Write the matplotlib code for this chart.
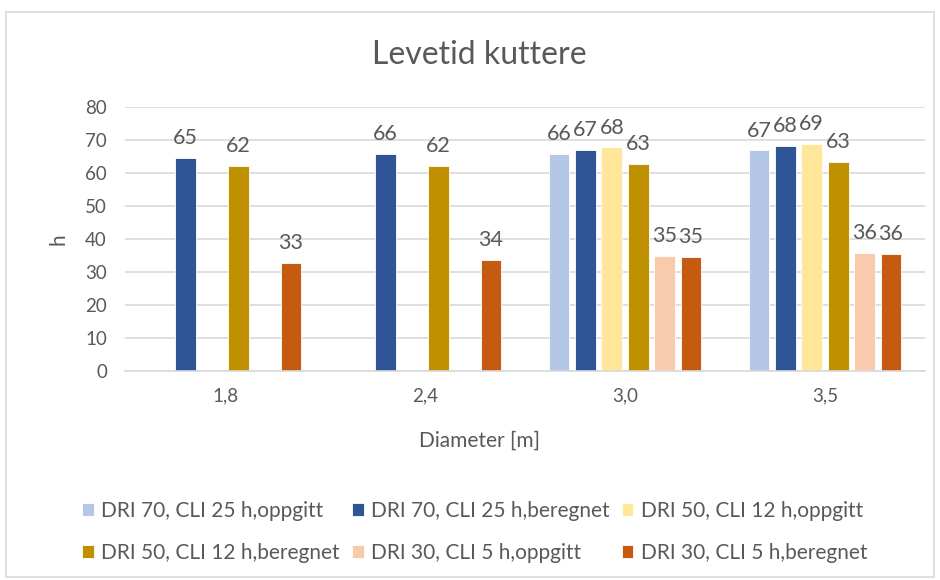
import numpy as np
import matplotlib.pyplot as plt
from matplotlib.patches import Rectangle

plt.rcParams['font.family'] = ['Lato', 'DejaVu Sans']

# Data
kategorier = ['1,8', '2,4', '3,0', '3,5']
serier = ['DRI 70, CLI 25 h,oppgitt', 'DRI 70, CLI 25 h,beregnet',
          'DRI 50, CLI 12 h,oppgitt', 'DRI 50, CLI 12 h,beregnet',
          'DRI 30, CLI 5 h,oppgitt', 'DRI 30, CLI 5 h,beregnet']
verdier = [
    [np.nan, np.nan, 65.9, 66.9],
    [64.7, 65.7, 67.1, 68.3],
    [np.nan, np.nan, 67.8, 68.9],
    [62.1, 62.2, 62.8, 63.4],
    [np.nan, np.nan, 34.9, 35.9],
    [32.8, 33.6, 34.7, 35.6],
]
farger = ['#B4C7E7', '#2F5597', '#FFE699', '#BF9000', '#F8CBAD', '#C55A11']

tekst = '#595959'

fig = plt.figure(figsize=(9.4, 5.8), dpi=100)
ax = fig.add_axes([0.133, 0.3603, 0.851, 0.4552])

x = np.arange(len(kategorier))
slot = 0.132
bredde = 0.104
handles = []
for i, (navn, v, c) in enumerate(zip(serier, verdier, farger)):
    b = ax.bar(x + (i - 2.5) * slot, v, width=bredde, color=c,
               edgecolor='white', linewidth=0.6, label=navn)
    handles.append(b)
    etiketter = ['' if np.isnan(val) else f'{val:.0f}' for val in v]
    ax.bar_label(b, labels=etiketter, padding=7, fontsize=15.5, color=tekst)

ax.set_xlim(-0.5, 3.5)
ax.set_ylim(0, 80)
ax.set_yticks(np.arange(0, 81, 10))
ax.set_xticks(x)
ax.set_xticklabels(kategorier)
ax.tick_params(axis='both', length=0, labelsize=13.5, colors=tekst)
ax.tick_params(axis='y', pad=13)
ax.tick_params(axis='x', pad=12)
ax.grid(axis='y', color='#D9D9D9', linewidth=1.2)
ax.set_axisbelow(True)
for s in ['top', 'right', 'left']:
    ax.spines[s].set_visible(False)
ax.spines['bottom'].set_color('#D9D9D9')
ax.spines['bottom'].set_linewidth(1.2)

fig.text(0.51, 0.905, 'Levetid kuttere', ha='center', va='center',
         fontsize=23, color=tekst)
fig.text(0.51, 0.240, 'Diameter [m]', ha='center', va='center',
         fontsize=15, color=tekst)
fig.text(0.062, 0.587, 'h', ha='center', va='center', rotation=90,
         fontsize=15, color=tekst)

# legend radvis
rekkefolge = [0, 3, 1, 4, 2, 5]
leg = fig.legend([handles[k] for k in rekkefolge], [serier[k] for k in rekkefolge],
                 ncol=3, loc='center', bbox_to_anchor=(0.505, 0.083),
                 frameon=False, fontsize=15, handlelength=0.55, handleheight=0.55,
                 handletextpad=0.35, columnspacing=0.6, labelspacing=1.05)
for t in leg.get_texts():
    t.set_color(tekst)

# ramme rundt diagrammet
fig.patches.append(Rectangle((0.006, 0.005), 0.988, 0.975, transform=fig.transFigure,
                             fill=False, edgecolor='#D9D9D9', linewidth=1.2))

fig.savefig('out.png', dpi=100)
